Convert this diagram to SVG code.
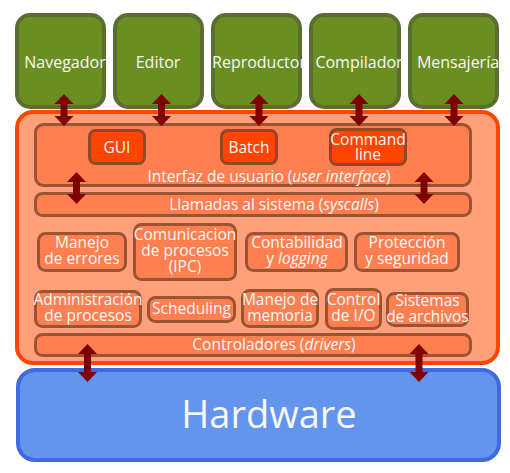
<svg xmlns="http://www.w3.org/2000/svg" width="510" height="473" viewBox="0 0 510 473">
<style>
text{font-family:"Open Sans","Noto Sans","DejaVu Sans",sans-serif;fill:#f7f7f7;text-anchor:middle}
.app rect{fill:#6b8e23;stroke:#5a6e31;stroke-width:4}
.app text{font-size:16px}
.sub rect{fill:#ff7f50;stroke:#9a5432;stroke-width:3}
.sub text{font-size:15.5px}
.btn rect{fill:#ff4500;stroke:#8e4a28;stroke-width:3}
.btn text{font-size:15.5px}
.arr{fill:#800000}
</style>
<rect width="510" height="473" fill="#ffffff"/>
<g id="apps">
<g id="navegador" class="app"><rect x="17" y="15" width="87" height="92" rx="13"/><text x="65" y="68">Navegador</text></g>
<g id="editor" class="app"><rect x="115" y="15" width="87" height="92" rx="13"/><text x="158" y="68">Editor</text></g>
<g id="reproductor" class="app"><rect x="213" y="15" width="87" height="92" rx="13"/><text x="259" y="68">Reproductor</text></g>
<g id="compilador" class="app"><rect x="311" y="15" width="88" height="92" rx="13"/><text x="359" y="68">Compilador</text></g>
<g id="mensajeria" class="app"><rect x="410" y="15" width="87" height="92" rx="13"/><text x="458" y="68">Mensajería</text></g>
</g>
<g id="kernel">
<rect x="17" y="112" width="481" height="251" rx="16" fill="#ffa07a" stroke="#ff4500" stroke-width="4"/>
</g>
<g id="ui" class="sub"><rect x="35.5" y="124.5" width="435" height="61" rx="8"/><text x="269" y="182">Interfaz de usuario (<tspan font-style="italic">user interface</tspan>)</text></g>
<g id="gui" class="btn"><rect x="89.5" y="130.5" width="55" height="33" rx="6"/><text x="117" y="153">GUI</text></g>
<g id="batch" class="btn"><rect x="221.5" y="130.5" width="55" height="33" rx="6"/><text x="249" y="153">Batch</text></g>
<g id="cmd" class="btn"><rect x="330.5" y="129.5" width="75" height="35" rx="6"/><text x="368" y="145">Command</text><text x="368" y="160">line</text></g>
<g id="syscalls" class="sub"><rect x="35.5" y="193.5" width="435" height="22" rx="7"/><text x="274" y="210">Llamadas al sistema (<tspan font-style="italic">syscalls</tspan>)</text></g>
<g id="errores" class="sub"><rect x="38.5" y="233.5" width="87" height="37" rx="7"/><text x="82" y="248">Manejo</text><text x="82" y="264">de errores</text></g>
<g id="ipc" class="sub"><rect x="134.5" y="224.5" width="101" height="55" rx="7"/><text x="185" y="240">Comunicacion</text><text x="185" y="256">de procesos</text><text x="185" y="272">(IPC)</text></g>
<g id="contabilidad" class="sub"><rect x="246.5" y="233.5" width="100" height="37" rx="7"/><text x="297" y="248">Contabilidad</text><text x="297" y="264">y <tspan font-style="italic">logging</tspan></text></g>
<g id="proteccion" class="sub"><rect x="355.5" y="233.5" width="103" height="37" rx="7"/><text x="407" y="248">Protección</text><text x="407" y="264">y seguridad</text></g>
<g id="procesos" class="sub"><rect x="35.5" y="291.5" width="105" height="35" rx="7"/><text x="88" y="305">Administración</text><text x="88" y="321">de procesos</text></g>
<g id="scheduling" class="sub"><rect x="148.5" y="297.5" width="86" height="24" rx="7"/><text x="191.5" y="314">Scheduling</text></g>
<g id="memoria" class="sub"><rect x="242.5" y="290.5" width="75" height="36" rx="7"/><text x="280" y="305">Manejo de</text><text x="280" y="321">memoria</text></g>
<g id="io" class="sub"><rect x="326.5" y="289.5" width="54" height="39" rx="7"/><text x="353.5" y="305">Control</text><text x="353.5" y="321">de I/O</text></g>
<g id="archivos" class="sub"><rect x="387.5" y="293.5" width="80" height="32" rx="7"/><text x="427.5" y="306">Sistemas</text><text x="427.5" y="322">de archivos</text></g>
<g id="drivers" class="sub"><rect x="35.5" y="334.5" width="435" height="21" rx="7"/><text x="274" y="350">Controladores (<tspan font-style="italic">drivers</tspan>)</text></g>
<g id="hardware"><rect x="18" y="370" width="481" height="90" rx="17" fill="#6495ed" stroke="#4169e1" stroke-width="4"/><text x="269" y="428" font-size="38">Hardware</text></g>
<g id="connectors" class="arr">
<path d="M64,94 l9.5,10 h-6 v12 h6 l-9.5,10 l-9.5,-10 h6 v-12 h-6 z"/>
<path d="M161.5,94 l9.5,10 h-6 v12 h6 l-9.5,10 l-9.5,-10 h6 v-12 h-6 z"/>
<path d="M259,94 l9.5,10 h-6 v12 h6 l-9.5,10 l-9.5,-10 h6 v-12 h-6 z"/>
<path d="M359,94 l9.5,10 h-6 v12 h6 l-9.5,10 l-9.5,-10 h6 v-12 h-6 z"/>
<path d="M454,94 l9.5,10 h-6 v12 h6 l-9.5,10 l-9.5,-10 h6 v-12 h-6 z"/>
<path d="M76.5,172 l9.5,10 h-6 v12 h6 l-9.5,10 l-9.5,-10 h6 v-12 h-6 z"/>
<path d="M424,172 l9.5,10 h-6 v12 h6 l-9.5,10 l-9.5,-10 h6 v-12 h-6 z"/>
<path d="M87.5,344 l9.5,10 h-6 v18 h6 l-9.5,10 l-9.5,-10 h6 v-18 h-6 z"/>
<path d="M419,344 l9.5,10 h-6 v18 h6 l-9.5,10 l-9.5,-10 h6 v-18 h-6 z"/>
</g>
</svg>
